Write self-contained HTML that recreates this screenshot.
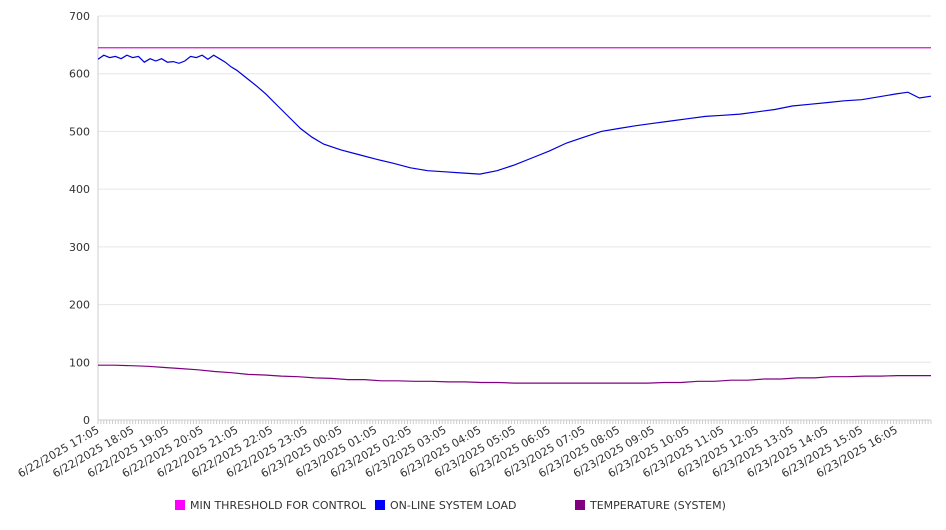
<!DOCTYPE html>
<html><head><meta charset="utf-8"><style>
body{margin:0;background:#fff;font-family:"DejaVu Sans","Liberation Sans",sans-serif;}
svg text{font-family:"DejaVu Sans","Liberation Sans",sans-serif;fill:#333;font-size:11px;}
</style></head><body>
<svg id="chart" width="946" height="526" xmlns="http://www.w3.org/2000/svg">
<g id="grid"></g>
<g id="axes"></g>
<g id="series"></g>
<g id="legend"></g>
</svg>
<script>
const yTicks=[0,100,200,300,400,500,600,700];
const xLabels=["6/22/2025 17:05","6/22/2025 18:05","6/22/2025 19:05","6/22/2025 20:05","6/22/2025 21:05","6/22/2025 22:05","6/22/2025 23:05","6/23/2025 00:05","6/23/2025 01:05","6/23/2025 02:05","6/23/2025 03:05","6/23/2025 04:05","6/23/2025 05:05","6/23/2025 06:05","6/23/2025 07:05","6/23/2025 08:05","6/23/2025 09:05","6/23/2025 10:05","6/23/2025 11:05","6/23/2025 12:05","6/23/2025 13:05","6/23/2025 14:05","6/23/2025 15:05","6/23/2025 16:05"];
const threshold=645;
// minutes since 17:05
const loadMinutes=[0,10,20,30,40,50,60,70,80,90,100,110,120,130,140,150,160,170,180,190,200,210,220,230,240,250,260,275,290,310,330,350,370,390,420,450,480,510,540,570,600,630,660,690,720,750,780,810,840,870,900,930,960,990,1020,1050,1080,1110,1140,1170,1200,1230,1260,1290,1320,1350,1380,1400,1420,1440];
const loadValues=[625,632,628,630,626,632,628,630,620,626,622,626,620,621,618,622,630,628,632,625,632,626,620,612,606,598,590,578,565,545,525,505,490,478,468,460,452,445,437,432,430,428,426,432,442,454,466,480,490,500,505,510,514,518,522,526,528,530,534,538,544,547,550,553,555,560,565,568,558,561];
const tempValues=[95,95,94,93,91,89,87,84,82,79,78,76,75,73,72,70,70,68,68,67,67,66,66,65,65,64,64,64,64,64,64,64,64,64,65,65,67,67,69,69,71,71,73,73,75,75,76,76,77,77,77];
const L=98,R=931,T=16,B=420;
const ns="http://www.w3.org/2000/svg";
function y(v){return B-(v/700)*(B-T);}
function xMin(m){return L+m/(24*60)*(R-L);}
function mk(tag,attrs,parent){const e=document.createElementNS(ns,tag);for(const k in attrs)e.setAttribute(k,attrs[k]);parent.appendChild(e);return e;}
const grid=document.getElementById('grid'),axes=document.getElementById('axes'),ser=document.getElementById('series'),leg=document.getElementById('legend');
yTicks.forEach(v=>{
 const l=mk('line',{x1:L,x2:R,y1:y(v),y2:y(v),stroke:'#e6e6e6','stroke-width':1},grid);
 
 
 const t=mk('text',{x:L-8,y:y(v)+4,'text-anchor':'end'},axes);t.textContent=v;
 
 
});
mk('line',{x1:L,x2:L,y1:T,y2:B,stroke:'#ccc'},axes);
mk('line',{x1:L,x2:R,y1:B,y2:B,stroke:'#ccc'},axes);
for(let m=0;m<=24*60;m+=5){mk('line',{x1:xMin(m),x2:xMin(m),y1:B,y2:B+4,stroke:'#ccc'},axes);}
xLabels.forEach((s,i)=>{
 const x=xMin(i*60);
 const t=mk('text',{x:x+2,y:B+12,'text-anchor':'end',transform:`rotate(-30 ${x+2} ${B+12})`},axes);t.textContent=s;
 
 
});
const th=mk('line',{x1:L,x2:R,y1:y(threshold),y2:y(threshold),stroke:'#d01ad0','stroke-width':1.2},ser);


function poly(vals,mins,color,name){
 const pts=vals.map((v,i)=>xMin(mins[i]).toFixed(1)+','+y(v).toFixed(1)).join(' ');
 const p=mk('polyline',{points:pts,fill:'none',stroke:color,'stroke-width':1.2},ser);
 
 
}
poly(loadValues,loadMinutes,'#0000dd','load-line');
poly(tempValues,tempValues.map((v,i)=>i*1440/(tempValues.length-1)),'#800080','temperature-line');
[["MIN THRESHOLD FOR CONTROL","#ff00ff",175],["ON-LINE SYSTEM LOAD","#0000ff",375],["TEMPERATURE (SYSTEM)","#800080",575]].forEach(([n,c,x])=>{
 const r=mk('rect',{x:x,y:500,width:10,height:10,fill:c},leg);
 
 
 const t=mk('text',{x:x+15,y:509},leg);t.textContent=n;
 
 
});
</script>
</body></html>
